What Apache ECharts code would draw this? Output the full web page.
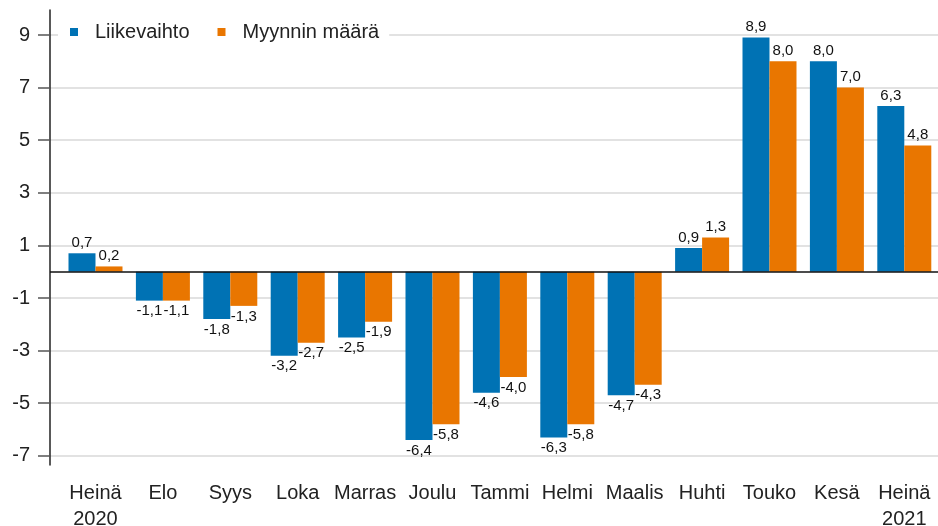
<!DOCTYPE html>
<html>
<head>
<meta charset="utf-8">
<script src="https://cdn.jsdelivr.net/npm/echarts@6/dist/echarts.min.js"></script>
<style>
  html, body { margin: 0; padding: 0; background: #fff; }
  #chart { width: 938px; height: 526px; }
</style>
</head>
<body>
<div id="chart"></div>
<script>
// kuukaudet
var months = ['Heinä\n2020', 'Elo', 'Syys', 'Loka', 'Marras', 'Joulu', 'Tammi', 'Helmi', 'Maalis', 'Huhti', 'Touko', 'Kesä', 'Heinä\n2021'];
var liikevaihto = [0.7, -1.1, -1.8, -3.2, -2.5, -6.4, -4.6, -6.3, -4.7, 0.9, 8.9, 8.0, 6.3];
var myynninMaara = [0.2, -1.1, -1.3, -2.7, -1.9, -5.8, -4.0, -5.8, -4.3, 1.3, 8.0, 7.0, 4.8];
var yTicks = [-7, -5, -3, -1, 1, 3, 5, 7, 9];

var chart = echarts.init(document.getElementById('chart'));

function fmt(v) {
  return v.toFixed(1).replace('.', ',');
}

function barLabel() {
  return {
    show: true,
    fontFamily: 'Liberation Sans, Arial, sans-serif',
    fontSize: 15,
    color: '#111',
    distance: 3,
    formatter: function (p) { return fmt(p.value[1]); }
  };
}

function toPoints(arr) {
  return arr.map(function (v, i) {
    return { value: [i, v], label: { position: v < 0 ? 'bottom' : 'top' } };
  });
}

chart.setOption({
  animation: false,
  textStyle: { fontFamily: 'Liberation Sans, Arial, sans-serif' },
  grid: { left: 50, right: 0, top: 10, bottom: 61, containLabel: false, outerBoundsMode: 'none' },
  legend: {
    left: 58,
    top: 20,
    itemWidth: 8,
    itemHeight: 8,
    itemGap: 28,
    padding: [2, 10, 2, 12],
    backgroundColor: '#fff',
    textStyle: { fontSize: 20, color: '#222', padding: [0, 0, 0, 12] },
    data: [
      { name: 'Liikevaihto', icon: 'rect' },
      { name: 'Myynnin määrä', icon: 'rect' }
    ]
  },
  xAxis: {
    type: 'value',
    min: -0.675,
    max: 12.5,
    axisLine: { show: false },
    axisTick: { show: false },
    splitLine: { show: false },
    axisLabel: {
      customValues: months.map(function (m, i) { return i; }),
      formatter: function (v) { return months[v]; },
      fontSize: 20,
      color: '#222',
      lineHeight: 26,
      margin: 15,
      verticalAlign: 'top'
    }
  },
  yAxis: {
    type: 'value',
    min: -7.35,
    max: 9.95,
    axisLine: { show: true, onZero: false, lineStyle: { color: '#222', width: 1.5 } },
    axisTick: {
      show: true,
      customValues: yTicks,
      length: 12,
      lineStyle: { color: '#555', width: 1.5 }
    },
    axisLabel: {
      customValues: yTicks,
      fontSize: 20,
      color: '#222',
      margin: 20
    },
    splitLine: { show: true, lineStyle: { color: '#e2e2e2', width: 2 } }
  },
  series: [
    {
      name: 'Liikevaihto',
      type: 'bar',
      barWidth: 27,
      barGap: '0%',
      itemStyle: { color: '#0072b4' },
      label: barLabel(),
      data: toPoints(liikevaihto),
      markLine: {
        silent: true,
        symbol: 'none',
        label: { show: false },
        lineStyle: { color: '#111', width: 1.5, type: 'solid' },
        data: [{ yAxis: 0 }]
      }
    },
    {
      name: 'Myynnin määrä',
      type: 'bar',
      barWidth: 27,
      barGap: '0%',
      itemStyle: { color: '#e97600' },
      label: barLabel(),
      data: toPoints(myynninMaara)
    }
  ]
});
</script>
</body>
</html>
